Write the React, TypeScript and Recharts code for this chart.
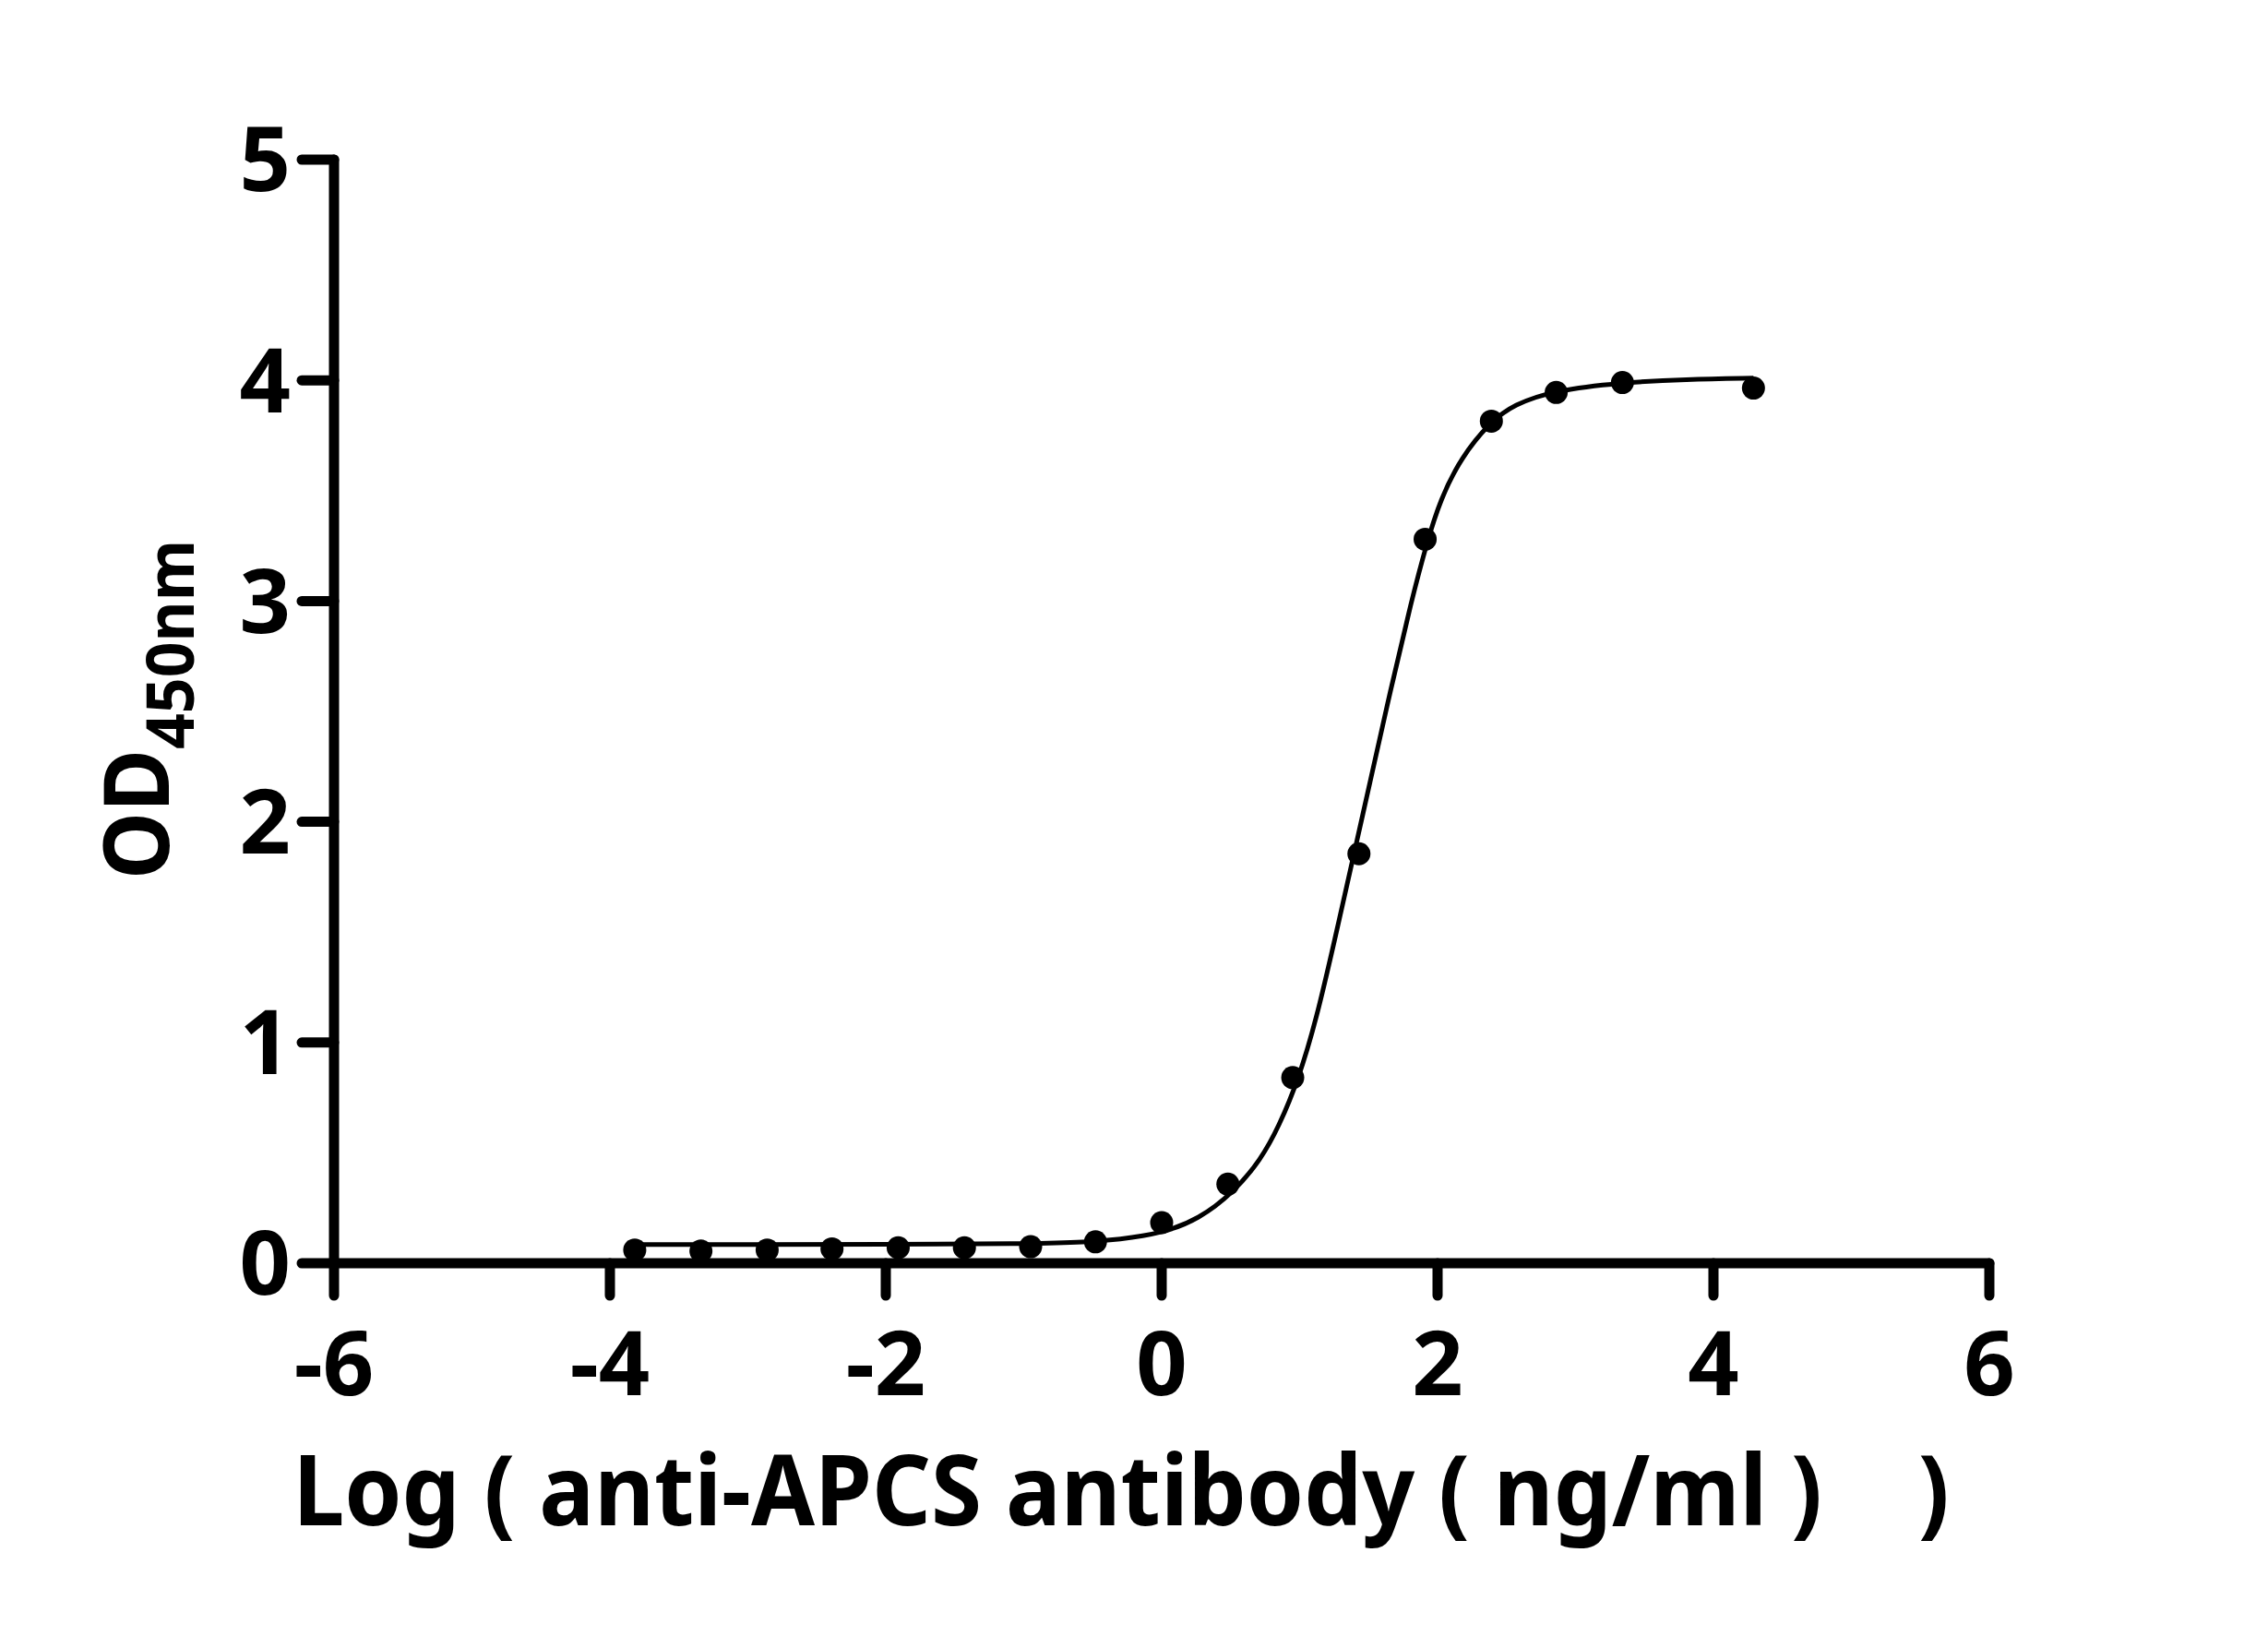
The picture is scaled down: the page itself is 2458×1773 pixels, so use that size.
import { ComposedChart, Line, Scatter, XAxis, YAxis, Label } from 'recharts';

// log10 of the antibody dose (ng/ml), 1:3 dilutions
const LOG_DOSE = [-3.82, -3.34, -2.86, -2.39, -1.91, -1.43, -0.95, -0.48, 0, 0.48, 0.95, 1.43, 1.91, 2.39, 2.86, 3.34, 4.29];
const OD_450 = [0.06, 0.055, 0.06, 0.065, 0.07, 0.07, 0.075, 0.097, 0.184, 0.358, 0.841, 1.855, 3.28, 3.815, 3.945, 3.99, 3.965];

// fitted curve
const FIT_LOG = [-3.82, -3, -2, -1, -0.6, -0.3, 0, 0.27, 0.52, 0.72, 0.85, 0.99, 1.12, 1.26, 1.41, 1.5, 1.66, 1.81, 1.92, 2.02, 2.17, 2.38, 2.55, 2.85, 3.33, 3.8, 4.29];
const FIT_OD = [0.085, 0.085, 0.086, 0.088, 0.094, 0.108, 0.135, 0.2, 0.32, 0.47, 0.62, 0.83, 1.1, 1.48, 1.9, 2.15, 2.6, 3.0, 3.26, 3.46, 3.65, 3.81, 3.89, 3.955, 3.99, 4.005, 4.01];

const X_TICKS = [-6, -4, -2, 0, 2, 4, 6];
const Y_TICKS = [0, 1, 2, 3, 4, 5];

const X_TITLE = 'Log ( anti-APCS antibody ( ng/ml )    )';

const FONT = "'Noto Sans', 'Open Sans', sans-serif";
const INK = '#000';

const points = LOG_DOSE.map((x, i) => ({ x, y: OD_450[i] }));
const curve = FIT_LOG.map((x, i) => ({ x, y: FIT_OD[i] }));

const axisStyle = { stroke: INK, strokeWidth: 11, strokeLinecap: 'round' as const };
const tickStyle = { fill: INK, fontSize: 97, fontWeight: 700, fontFamily: FONT };

const Dot = (props: any) => <circle cx={props.cx} cy={props.cy} r={12.5} fill={INK} />;

const XTitle = (props: any) => {
  const vb = props.viewBox || {};
  const cx = vb.x + vb.width / 2 - 44;
  return (
    <text
      x={cx}
      y={vb.y + 284}
      textAnchor="middle"
      fontSize={106}
      fontWeight={700}
      fontFamily={FONT}
      fill={INK}
      textLength={1795}
      lengthAdjust="spacingAndGlyphs"
      style={{ whiteSpace: 'pre' }}
    >
      {X_TITLE}
    </text>
  );
};

const YTitle = (props: any) => {
  const vb = props.viewBox || {};
  const cx = 183;
  const cy = vb.y + vb.height / 2 - 2;
  return (
    <text
      x={cx}
      y={cy}
      transform={`rotate(-90 ${cx} ${cy})`}
      textAnchor="middle"
      fontSize={98}
      fontWeight={700}
      fontFamily={FONT}
      fill={INK}
      textLength={368}
      lengthAdjust="spacingAndGlyphs"
    >
      OD
      <tspan fontSize={72} dy={27}>450nm</tspan>
    </text>
  );
};

export default function App() {
  return (
    <div style={{ position: 'absolute', left: 0, top: 0, width: 2458, height: 1773, background: '#fff' }}>
      <ComposedChart width={2458} height={1773} margin={{ top: 173, right: 302, bottom: 0, left: 0 }}>
        <XAxis
          type="number"
          dataKey="x"
          domain={[-6, 6]}
          ticks={X_TICKS}
          interval={0}
          height={404}
          axisLine={axisStyle}
          tickLine={axisStyle}
          tickSize={35}
          tickMargin={39}
          tick={tickStyle}
          label={<Label content={XTitle} />}
        />
        <YAxis
          type="number"
          dataKey="y"
          domain={[0, 5]}
          ticks={Y_TICKS}
          interval={0}
          width={362}
          axisLine={axisStyle}
          tickLine={axisStyle}
          tickSize={35}
          tickMargin={12}
          tick={tickStyle}
          label={<Label content={YTitle} />}
        />
        <Line
          data={curve}
          dataKey="y"
          type="basis"
          stroke={INK}
          strokeWidth={5}
          dot={false}
          activeDot={false}
          isAnimationActive={false}
        />
        <Scatter data={points} dataKey="y" fill={INK} shape={Dot} isAnimationActive={false} />
      </ComposedChart>
    </div>
  );
}
